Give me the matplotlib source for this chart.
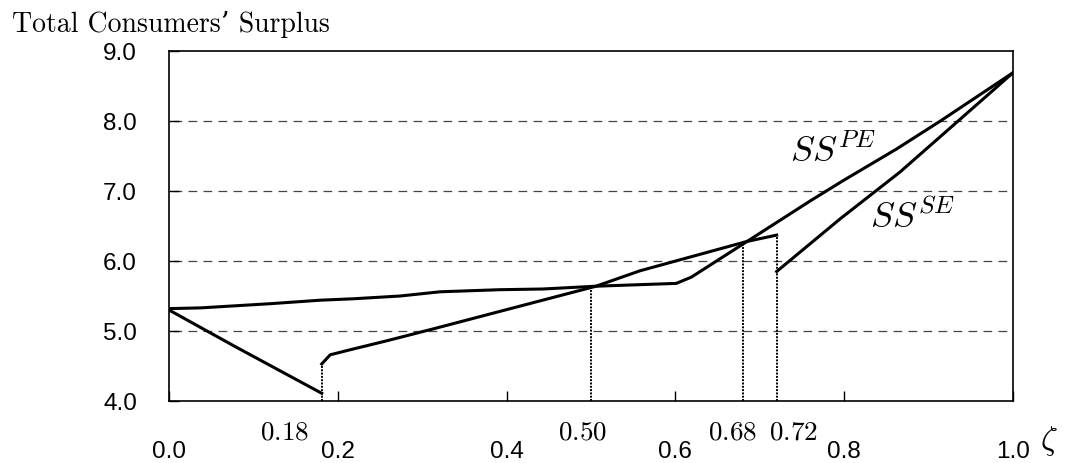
import matplotlib
matplotlib.use("Agg")
import matplotlib.pyplot as plt

plt.rcParams['mathtext.fontset'] = 'cm'
plt.rcParams['font.family'] = ['Liberation Sans', 'DejaVu Sans']

# curve through the V at 0.18 (ends at the drop at 0.72, then the lower right branch)
se_x_a = [0.0, 0.078, 0.181]
se_y_a = [5.30, 4.78, 4.11]
se_x_b = [0.181, 0.191, 0.214, 0.258, 0.313, 0.392, 0.506, 0.558, 0.685, 0.72]
se_y_b = [4.53, 4.66, 4.73, 4.86, 5.03, 5.28, 5.64, 5.86, 6.28, 6.37]
se_x_c = [0.72, 0.795, 0.866, 0.969, 1.0]
se_y_c = [5.85, 6.60, 7.27, 8.36, 8.69]

# flatter curve (SS^PE on the right)
pe_x = [0.0, 0.037, 0.12, 0.179, 0.218, 0.274, 0.321, 0.392, 0.443, 0.506,
        0.601, 0.619, 0.685, 0.76, 0.799, 0.862, 0.914, 1.0]
pe_y = [5.32, 5.33, 5.39, 5.44, 5.46, 5.50, 5.56, 5.59, 5.60, 5.64,
        5.68, 5.77, 6.28, 6.86, 7.15, 7.60, 8.00, 8.69]

# dotted drop lines
drop_x = [0.181, 0.50, 0.68, 0.72]
drop_top = [4.53, 5.65, 6.28, 6.37]
drop_labels = ['0.18', '0.50', '0.68', '0.72']
drop_label_x = [0.137, 0.490, 0.668, 0.740]

x_ticks = [0.0, 0.2, 0.4, 0.6, 0.8, 1.0]
y_ticks = [4.0, 5.0, 6.0, 7.0, 8.0, 9.0]

fig = plt.figure(figsize=(10.71, 4.64), dpi=100)
ax = fig.add_axes([169 / 1071, 62 / 464, 844 / 1071, 350 / 464])

for yv in y_ticks[1:-1]:
    ax.axhline(yv, xmin=0.005, xmax=0.993, color='#444444', lw=0.9, ls=(0, (7, 5)), zorder=1)

for xv, top in zip(drop_x, drop_top):
    ax.plot([xv, xv], [4.0, top], color='black', lw=1.4, ls=(0, (1, 0.7)), zorder=2)

ax.plot(se_x_a, se_y_a, color='black', lw=2.2, zorder=3)
ax.plot(se_x_b, se_y_b, color='black', lw=2.2, zorder=3)
ax.plot(se_x_c, se_y_c, color='black', lw=2.2, zorder=3)
ax.plot(pe_x, pe_y, color='black', lw=2.2, zorder=3)

ax.set_xlim(0, 1.0)
ax.set_ylim(4.0, 9.0)
ax.set_xticks(x_ticks)
ax.set_xticklabels(['%.1f' % v for v in x_ticks], fontsize=17.5)
ax.set_yticks(y_ticks)
ax.set_yticklabels(['%.1f' % v for v in y_ticks], fontsize=17.5)
ax.tick_params(axis='x', direction='in', length=7, width=1, pad=28)
ax.tick_params(axis='y', direction='in', length=7, width=1, pad=23)
for s in ax.spines.values():
    s.set_linewidth(1.2)

for lx, lab in zip(drop_label_x, drop_labels):
    ax.text(lx, 3.57, '$' + lab + '$', fontsize=19.5, ha='center', va='center')

ax.text(0.787, 7.57, r'$SS^{PE}$', fontsize=26, ha='center', va='center')
ax.text(0.881, 6.63, r'$SS^{SE}$', fontsize=26, ha='center', va='center')
fig.text(1049 / 1071, 1 - 441 / 464, r'$\zeta$', fontsize=24, ha='center', va='center')
fig.text(12 / 1071, 1 - 25 / 464, "Total Consumers\u2019 Surplus", fontsize=20,
         family=['cmr10', 'DejaVu Serif'], ha='left', va='center')

fig.savefig('out.png', dpi=100)
